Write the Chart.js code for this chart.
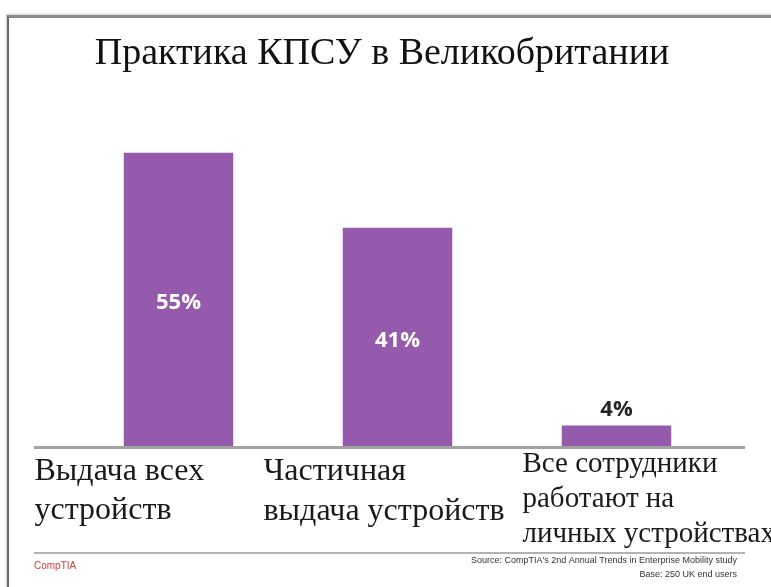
<!DOCTYPE html>
<html>
<head>
<meta charset="utf-8">
<script src="https://cdn.jsdelivr.net/npm/chart.js@4.4.1/dist/chart.umd.min.js"></script>
<style>
  html, body { margin: 0; padding: 0; background: #fff; }
  #wrap { position: relative; width: 771px; height: 587px; overflow: hidden; }
  #frame { position: absolute; left: 7px; top: 15px; width: 800px; height: 600px;
           border-top: 3px solid #8a8a8a; border-left: 2px solid #6a6a6a;
           box-shadow: -1px -1px 2px #ccc; }
  canvas { position: absolute; left: 0; top: 0; }
</style>
</head>
<body>
<div id="wrap">
  <div id="frame"></div>
  <canvas id="chart" width="771" height="587"></canvas>
</div>
<script>
var titre = 'Практика КПСУ в Великобритании';
var categories = [
    ['Выдача всех', 'устройств'],
    ['Частичная', 'выдача устройств'],
    ['Все сотрудники', 'работают на', 'личных устройствах']
];
var valeurs = [55, 41, 4];
var source1 = "Source: CompTIA's 2nd Annual Trends in Enterprise Mobility study";
var source2 = 'Base: 250 UK end users';

var violet = '#955aab';

// dessin des textes et de la ligne d'axe
var decor = {
    id: 'decor',
    afterDatasetsDraw: function (chart) {
        var ctx = chart.ctx;
        var zone = chart.chartArea;
        var meta = chart.getDatasetMeta(0);
        ctx.save();

        // titre
        ctx.fillStyle = '#111';
        ctx.textAlign = 'center';
        ctx.textBaseline = 'alphabetic';
        ctx.font = '38px "Liberation Serif", "Times New Roman", serif';
        ctx.fillText(titre, 382, 64);

        // ligne de base
        ctx.strokeStyle = '#a3a3a3';
        ctx.lineWidth = 3;
        ctx.beginPath();
        ctx.moveTo(34, zone.bottom + 0.5);
        ctx.lineTo(745, zone.bottom + 0.5);
        ctx.stroke();

        // valeurs
        ctx.textAlign = 'center';
        ctx.textBaseline = 'middle';
        ctx.font = 'bold 22px "Open Sans", sans-serif';
        meta.data.forEach(function (bar, i) {
            var h = bar.base - bar.y;
            if (h > 40) {
                ctx.fillStyle = '#ffffff';
                ctx.fillText(valeurs[i] + '%', bar.x, (bar.y + bar.base) / 2 + 3);
            } else {
                ctx.fillStyle = '#262626';
                ctx.fillText(valeurs[i] + '%', bar.x, bar.y - 16);
            }
        });

        // categories
        var decal = [-144, -134, -94];
        var taille = [32, 32, 29];
        var premiere = [480, 480, 472];
        var interligne = [39, 40, 35];
        ctx.textAlign = 'left';
        ctx.textBaseline = 'alphabetic';
        ctx.fillStyle = '#1a1a1a';
        meta.data.forEach(function (bar, i) {
            var lignes = chart.data.labels[i];
            ctx.font = taille[i] + 'px "Liberation Serif", "Times New Roman", serif';
            for (var k = 0; k < lignes.length; k++) {
                ctx.fillText(lignes[k], bar.x + decal[i], premiere[i] + k * interligne[i]);
            }
        });

        // pied de page
        ctx.strokeStyle = '#9a9a9a';
        ctx.lineWidth = 1.5;
        ctx.beginPath();
        ctx.moveTo(34, 553);
        ctx.lineTo(745, 553);
        ctx.stroke();

        ctx.textBaseline = 'middle';
        ctx.fillStyle = '#d0413a';
        ctx.font = '10px "Liberation Sans Narrow", "Liberation Sans", sans-serif';
        ctx.textAlign = 'left';
        ctx.fillText('CompTIA', 34, 566);

        ctx.fillStyle = '#333';
        ctx.font = '9px "Liberation Sans Narrow", "Liberation Sans", sans-serif';
        ctx.textAlign = 'right';
        ctx.fillText(source1, 737, 561);
        ctx.fillText(source2, 737, 575);
        ctx.restore();
    }
};

var ctx = document.getElementById('chart');
var graphe = new Chart(ctx, {
    type: 'bar',
    data: {
        labels: categories,
        datasets: [{
            data: valeurs,
            backgroundColor: violet,
            borderWidth: 0,
            categoryPercentage: 1,
            barPercentage: 0.5
        }]
    },
    options: {
        responsive: false,
        animation: false,
        events: [],
        layout: { padding: { left: 69, right: 45, bottom: 140, top: 126 } },
        plugins: {
            legend: { display: false },
            tooltip: { enabled: false },
            title: { display: false }
        },
        scales: {
            x: { display: false },
            y: { display: false, min: 0, max: 60 }
        }
    },
    plugins: [decor]
});
</script>
</body>
</html>
